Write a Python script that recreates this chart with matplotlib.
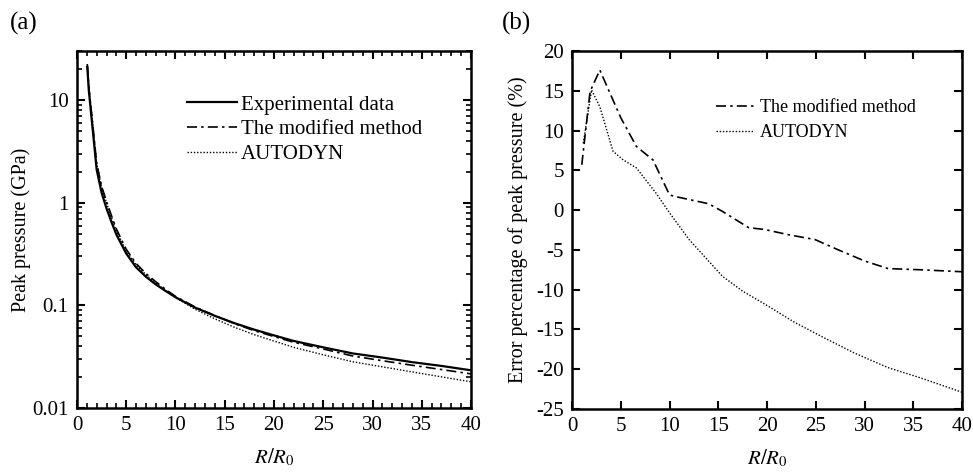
import numpy as np
import matplotlib
matplotlib.use('Agg')
import matplotlib.pyplot as plt
import matplotlib.transforms as mtransforms
from matplotlib.ticker import FixedLocator, MultipleLocator, NullFormatter, FixedFormatter

plt.rcParams['font.family'] = ['Liberation Serif', 'DejaVu Serif']
plt.rcParams['mathtext.fontset'] = 'stix'
plt.rcParams['axes.unicode_minus'] = False
plt.rcParams['font.size'] = 14

# (a) peak pressure vs R/R0
r_a = [1.05, 1.2, 1.5, 2, 2.5, 3, 3.5, 4, 5, 6, 7, 8, 9, 10, 12, 14, 16, 18,
       20, 22, 25, 28, 31, 34, 37, 40]
p_exp = [21, 12.5, 6.4, 2.1, 1.25, 0.88, 0.65, 0.49, 0.32, 0.235, 0.19, 0.16,
         0.138, 0.12, 0.095, 0.079, 0.067, 0.058, 0.051, 0.045, 0.039, 0.034,
         0.031, 0.028, 0.0257, 0.0233]
p_mod = [22.2, 13.5, 7.2, 2.42, 1.45, 1.03, 0.75, 0.555, 0.352, 0.256, 0.204,
         0.170, 0.143, 0.1225, 0.0963, 0.0796, 0.0663, 0.0567, 0.0497, 0.0437,
         0.0376, 0.0321, 0.0289, 0.0261, 0.0237, 0.0215]
p_aut = [22.5, 13.6, 7.2, 2.4, 1.43, 1.0, 0.72, 0.527, 0.341, 0.249, 0.199,
         0.165, 0.140, 0.1195, 0.0915, 0.0739, 0.0611, 0.0518, 0.0449, 0.039,
         0.033, 0.0282, 0.0252, 0.0225, 0.0201, 0.018]

# (b) error percentage
r_mod = [1.0, 1.85, 2.85, 5.0, 6.6, 8.3, 10.0, 10.6, 14.0, 15.4, 18.1, 19.8,
         22.2, 24.9, 27.3, 30.0, 32.4, 35.7, 40.0]
e_mod = [5.7, 14.9, 17.6, 11.6, 8.0, 6.3, 1.9, 1.7, 0.8, -0.15, -2.2, -2.45,
         -3.1, -3.7, -5.0, -6.4, -7.35, -7.5, -7.75]
r_aut = [1.15, 2.0, 2.85, 4.2, 5.2, 6.6, 8.6, 10.0, 12.0, 15.4, 17.5, 20.15,
         22.8, 25.6, 29.0, 32.4, 35.75, 40.0]
e_aut = [8.4, 15.1, 13.0, 7.4, 6.35, 5.3, 2.15, -0.35, -3.7, -8.3, -10.2, -12.1,
         -14.1, -15.9, -18.0, -19.8, -21.1, -22.9]

dashdot = (0, (6, 2.5, 1.5, 2.5))
dotted = (0, (1, 1.3))

fig = plt.figure(figsize=(9.73, 4.72), dpi=100)
ax1 = fig.add_axes([0.0791, 0.1356, 0.405, 0.756])
ax2 = fig.add_axes([0.5879, 0.1335, 0.4010, 0.7585])

ax1.plot(r_a, p_exp, color='black', lw=1.6, ls='-', label='Experimental data')
ax1.plot(r_a, p_mod, color='black', lw=1.2, ls=dashdot, label='The modified method')
ax1.plot(r_a, p_aut, color='black', lw=1.0, ls=dotted, label='AUTODYN')
ax1.set_yscale('log')
ax1.set_xlim(0, 40)
ax1.set_ylim(0.01, 30)
ax1.xaxis.set_major_locator(MultipleLocator(5))
ax1.xaxis.set_minor_locator(MultipleLocator(1))
ax1.yaxis.set_major_locator(FixedLocator([0.01, 0.1, 1, 10]))
ax1.yaxis.set_major_formatter(FixedFormatter(['0.01', '0.1', '1', '10']))
ax1.yaxis.set_minor_formatter(NullFormatter())
ax1.set_xlabel(r'$R/R_{\mathrm{0}}$', labelpad=8, fontsize=15)
ax1.set_ylabel('Peak pressure (GPa)', labelpad=1, fontsize=14.5)
ax1.legend(loc='upper left', bbox_to_anchor=(0.278, 0.877), frameon=False,
           handlelength=2.4, handletextpad=0.2, labelspacing=0.25,
           borderpad=0, borderaxespad=0, fontsize=15)

ax2.plot(r_mod, e_mod, color='black', lw=1.2, ls=dashdot, label='The modified method')
ax2.plot(r_aut, e_aut, color='black', lw=1.0, ls=dotted, label='AUTODYN')
ax2.set_xlim(0, 40)
ax2.set_ylim(-25, 20)
ax2.xaxis.set_major_locator(MultipleLocator(5))
ax2.yaxis.set_major_locator(MultipleLocator(5))
ax2.set_xlabel(r'$R/R_{\mathrm{0}}$', labelpad=8, fontsize=15)
ax2.set_ylabel('Error percentage of peak pressure (%)', labelpad=6, fontsize=14.5)
ax2.legend(loc='upper left', bbox_to_anchor=(0.37, 0.865), frameon=False,
           handlelength=2.1, handletextpad=0.3, labelspacing=0.45,
           borderpad=0, borderaxespad=0, fontsize=13)

for ax in (ax1, ax2):
    for s in ax.spines.values():
        s.set_linewidth(1.8)
    ax.tick_params(which='both', direction='in', top=True, right=True,
                   labelsize=15, pad=6)
    ax.tick_params(which='major', length=6, width=1.5)
    ax.tick_params(which='minor', length=3.5, width=1.2)

# keep the last x tick label of panel (b) inside the figure
fig.canvas.draw()
last = ax2.get_xticklabels()[-1]
last.set_transform(last.get_transform() +
                   mtransforms.ScaledTranslation(-3 / 100, 0, fig.dpi_scale_trans))

fig.text(0.010, 0.975, '(a)', fontsize=18, va='top', ha='left')
fig.text(0.516, 0.975, '(b)', fontsize=18, va='top', ha='left')

fig.savefig('out.png', dpi=100)
